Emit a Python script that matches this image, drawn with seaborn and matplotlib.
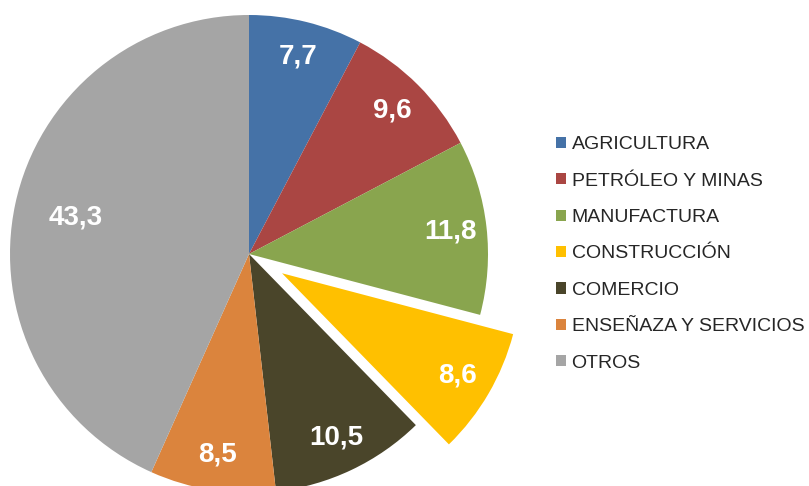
import matplotlib
matplotlib.use('Agg')
import matplotlib.pyplot as plt
import seaborn as sns

# Data
sectores = ['AGRICULTURA', 'PETRÓLEO Y MINAS', 'MANUFACTURA', 'CONSTRUCCIÓN',
            'COMERCIO', 'ENSEÑAZA Y SERVICIOS', 'OTROS']
valores = [7.7, 9.6, 11.8, 8.6, 10.5, 8.5, 43.3]
colores = ['#4572A7', '#AA4643', '#89A54E', '#FFC000', '#4A452A', '#DB843D', '#A5A5A5']
destacado = [0, 0, 0, 0.16, 0, 0, 0]

sns.set_theme(style='white')
plt.rcParams['font.family'] = ['Liberation Sans', 'DejaVu Sans']

W, H = 809, 486
fig = plt.figure(figsize=(W / 100, H / 100), dpi=100)
ax = fig.add_axes([0, 0, 1, 1])

wedges, texts, autotexts = ax.pie(
    valores, colors=colores, startangle=90, counterclock=False,
    explode=destacado, radius=1.0, pctdistance=0.85,
    autopct=lambda p: f'{p:.1f}'.replace('.', ','),
    textprops=dict(color='white', fontsize=20, fontweight='bold'),
    wedgeprops=dict(linewidth=0))

# pull the big slice's label inwards like the original
x, y = autotexts[-1].get_position()
autotexts[-1].set_position((x * 0.74 / 0.85, y * 0.74 / 0.85))

# pie centre at (249, 254) px from top-left, radius 239 px
R, cx, cy = 239, 249, 254
ax.set_aspect('auto')
ax.set_xlim(-cx / R, (W - cx) / R)
ax.set_ylim(-(H - cy) / R, cy / R)
ax.axis('off')

fig.legend(wedges, sectores, loc='center left',
           bbox_to_anchor=(556 / W, 1 - 254 / H),
           frameon=False, fontsize=14, handlelength=0.5, handleheight=0.5,
           handletextpad=0.3, labelspacing=1.0, borderpad=0, borderaxespad=0,
           labelcolor='#262626')

fig.savefig('out.png', dpi=100)
